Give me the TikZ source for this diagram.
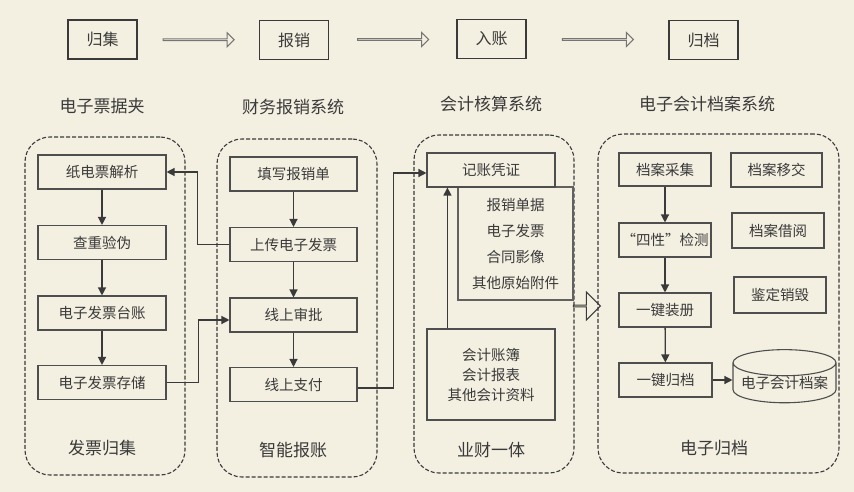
\documentclass[tikz,border=0pt]{standalone}
\usepackage{fontspec}
\setmainfont{Noto Sans CJK SC}
\usetikzlibrary{calc,shapes.geometric,shapes.arrows,arrows.meta}
\definecolor{bg}{HTML}{F3EFE1}
\definecolor{ink}{HTML}{3A3A3A}

\begin{document}
\begin{tikzpicture}[x=1pt,y=-1pt,
 every node/.style={text=ink},
 stage/.style={draw=ink, line width=1.6pt, minimum width=69, minimum height=39, inner sep=0, font=\fontsize{16}{16}\selectfont},
 proc/.style={draw=ink!90, line width=1.1pt, minimum width=128, minimum height=34, inner sep=0, font=\fontsize{14.5}{14.5}\selectfont},
 group/.style={draw=ink, dashed, dash pattern=on 4pt off 2pt, line width=1.1pt, rounded corners=25pt, minimum width=160, minimum height=338},
 systitle/.style={font=\fontsize{17}{17}\selectfont},
 grouplabel/.style={font=\fontsize{17}{17}\selectfont},
 hollow/.style={single arrow, draw=ink!70, line width=1pt, inner sep=0, minimum height=71, minimum width=14, single arrow head extend=3.5pt},
 arr/.style={draw=ink, line width=1.3pt, -{Triangle[length=8pt,width=8pt]}}]

\useasboundingbox[fill=bg] (0,0) rectangle (854,492);

% stages
\node[stage] (gj) at (102.5,39.5) {归集};
\node[stage] (bx) at (294,40) {报销};
\node[stage] (rz) at (491.5,39) {入账};
\node[stage] (gd) at (703.5,40) {归档};
\node[hollow] (s1) at ($(gj.east)!0.5!(bx.west)$) {};
\node[hollow] (s2) at ($(bx.east)!0.5!(rz.west)$) {};
\node[hollow] (s3) at ($(rz.east)!0.5!(gd.west)$) {};

% systems
\node[systitle] (t1) at (102,106) {电子票据夹};
\node[systitle] (t2) at (293,107) {财务报销系统};
\node[systitle] (t3) at (491,104) {会计核算系统};
\node[systitle] (t4) at (707,104) {电子会计档案系统};

\node[group] (c1) at (105,306) {};
\node[group] (c2) at (297,308) {};
\node[group] (c3) at (494,304) {};
\node[group, minimum width=241, minimum height=339] (c4) at (718.5,303.5) {};
\node[grouplabel] (l1) at (102,448) {发票归集};
\node[grouplabel] (l2) at (293,450) {智能报账};
\node[grouplabel] (l3) at (491,450) {业财一体};
\node[grouplabel] (l4) at (714,448) {电子归档};

% invoice folder
\node[proc] (parse) at (102,172) {纸电票解析};
\node[proc] (verify) at (102,242.5) {查重验伪};
\node[proc] (ledger) at (102,313) {电子发票台账};
\node[proc] (store) at (102,382.5) {电子发票存储};
\foreach \a/\b in {parse/verify,verify/ledger,ledger/store} \draw[arr] (\a) -- (\b);

% reimbursement
\node[proc, minimum width=127] (fill) at (293.5,174) {填写报销单};
\node[proc, minimum width=127] (upload) at (293.5,244.5) {上传电子发票};
\node[proc, minimum width=127] (approve) at (293.5,315) {线上审批};
\node[proc, minimum width=127] (pay) at (293.5,384.5) {线上支付};
\foreach \a/\b in {fill/upload,upload/approve,approve/pay} \draw[arr] (\a) -- (\b);

\draw[arr] (upload.west) -- ++(-32,0) |- (parse.east);
\draw[arr] (store.east) -- ++(32,0) |- ([yshift=-5pt]approve.west);

% accounting
\node[proc, draw=ink!80, minimum width=115, minimum height=113, align=center, font=\fontsize{14.5}{26}\selectfont] (docs) at (515.5,243.5)
 {报销单据\\电子发票\\合同影像\\其他原始附件};
\node[proc, fill=bg] (voucher) at (491,170) {记账凭证};
\node[proc, minimum height=91, align=center, font=\fontsize{14.5}{20}\selectfont] (books) at (491,374.5)
 {会计账簿\\会计报表\\其他会计资料};
\draw[arr] ([xshift=21pt]books.north west) -- ([xshift=21pt]voucher.south west);
\draw[arr] ([yshift=-3.5pt]pay.east) -- ++(36,0) |- ([yshift=-3pt]voucher.west);
\node[hollow, draw=ink, minimum height=27, minimum width=28, single arrow head extend=7.5pt] (out) at (586.5,306) {};

% archive
\node[proc, minimum width=92, minimum height=33] (collect) at (665,169.5) {档案采集};
\node[proc, minimum width=92] (check) at (665,240) {“四性”检测};
\node[proc, minimum width=92] (bind) at (665,310) {一键装册};
\node[proc, minimum width=93] (file) at (665.5,380) {一键归档};
\foreach \a/\b in {collect/check,check/bind,bind/file} \draw[arr] (\a) -- (\b);
\node[proc, minimum width=91] (transfer) at (776.5,170) {档案移交};
\node[proc, minimum width=92, minimum height=35] (borrow) at (778,230.5) {档案借阅};
\node[proc, minimum width=92, minimum height=36] (destroy) at (780,295) {鉴定销毁};
\node[proc, cylinder, shape border rotate=90, aspect=0.3, minimum width=103, minimum height=53] (eacc) at (784.5,383) {电子会计档案};
\draw[arr] (file) -- (file -| eacc.west);

\end{tikzpicture}
\end{document}
